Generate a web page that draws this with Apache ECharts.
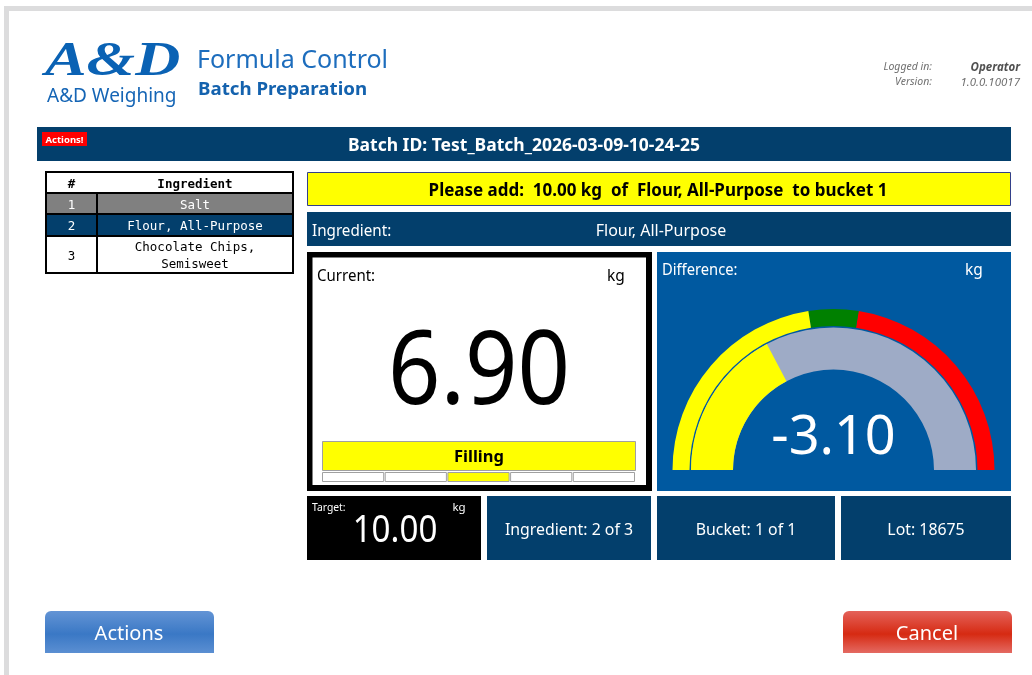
<!DOCTYPE html>
<html><head><meta charset="utf-8">
<script src="https://cdn.jsdelivr.net/npm/echarts@6/dist/echarts.min.js"></script>
<style>html,body{margin:0;padding:0;background:#fff;}#c{width:1032px;height:675px;}</style>
</head><body><div id="c"></div>
<script>
// ---- data ----
const appTitle = ['Formula Control', 'Batch Preparation'];
const loginLabels = ['Logged in:', 'Version:'];
const loginValues = ['Operator', '1.0.0.10017'];
const batchIds = ['Test_Batch_2026-03-09-10-24-25'];
const ingredientNo = ['1', '2', '3'];
const ingredientNames = ['Salt', 'Flour, All-Purpose', 'Chocolate Chips,\nSemisweet'];
const ingredientState = ['done', 'active', 'pending'];
const requestText = ['Please add:  10.00 kg  of  Flour, All-Purpose  to bucket 1'];
const currentKg = [6.90];
const targetKg = [10.00];
const differenceKg = [-3.10];
const gaugeRange = [-10, 10];
const toleranceBand = [-1, 1];
const fillStates = ['', '', 'Filling', '', ''];
const activeFillStep = [2];
const infoBoxes = ['Ingredient: 2 of 3', 'Bucket: 1 of 1', 'Lot: 18675'];
const buttonLabels = ['Actions', 'Cancel'];

// ---- styling helpers ----
const NAVY = '#033f6c', BLUE = '#0059a0', SANS = "'Noto Sans'", MONO = "'DejaVu Sans Mono'";
const DY = 1.5;
function R(x, y, w, h, fill, extra) {
  return Object.assign({ type: 'rect', shape: { x, y, width: w, height: h }, style: { fill }, z: 1 }, extra || {});
}
function T(x, y, text, o) {
  o = o || {};
  const font = `${o.italic ? 'italic ' : ''}${o.bold ? 'bold ' : 'normal '}${o.size || 14}px ${o.family || SANS}`;
  const al = o.align || 'left', va = o.va || 'middle';
  return { type: 'text', x, y: y + DY, scaleX: o.sx || 1, scaleY: o.sy || 1, z: 5,
    style: { text, x: 0, y: 0, fill: o.color || '#000', font, textAlign: al, textVerticalAlign: va, align: al, verticalAlign: va, lineHeight: o.lh } };
}

const els = [];
// page frame
els.push(R(4, 6, 1028, 5, '#dcdcdd'));
els.push(R(4, 6, 5, 669, '#dcdcdd'));
// logo
els.push(T(45, 61, 'A&D', { size: 52, bold: true, italic: true, family: "'Liberation Serif'", color: '#0a62b4', sx: 1.2, sy: 0.95 }));
els.push(T(47, 95, 'A&D Weighing', { size: 19, color: '#1565b5' }));
els.push(T(197, 59, appTitle[0], { size: 25, color: '#1d6dbd' }));
els.push(T(198, 88, appTitle[1], { size: 18, bold: true, color: '#1462ae', sx: 1.04 }));
// login info
loginLabels.forEach((l, i) => {
  els.push(T(932, 66 + i * 15, l, { size: 10.5, italic: true, color: '#707070', align: 'right' }));
  els.push(T(1020, 66 + i * 15, loginValues[i], { size: 11.5, italic: true, bold: i === 0, color: i === 0 ? '#505050' : '#707070', align: 'right' }));
});
// header bar
els.push(R(37, 127, 974, 34, NAVY));
els.push(R(42, 132, 45, 14, '#ff0000', { z: 2 }));
els.push(T(64.5, 138.5, 'Actions!', { size: 9.5, bold: true, color: '#fff', align: 'center' }));
els.push(T(524, 145, 'Batch ID: ' + batchIds[0], { size: 17.5, bold: true, color: '#fff', align: 'center' }));

// ingredient table
const tx = 46, tw = 247, colX = 97;
const rowY = [172, 193, 214, 236, 273];
els.push(R(tx, rowY[0], tw, rowY[1] - rowY[0], '#fff'));
els.push(T(71.5, 183, '#', { size: 12.5, bold: true, family: MONO, align: 'center' }));
els.push(T(195, 183, 'Ingredient', { size: 12.5, bold: true, family: MONO, align: 'center' }));
ingredientNames.forEach((n, i) => {
  const st = ingredientState[i];
  const bg = st === 'done' ? '#808080' : st === 'active' ? NAVY : '#fff';
  const fg = st === 'pending' ? '#000' : '#fff';
  const y0 = rowY[i + 1], y1 = rowY[i + 2];
  els.push(R(tx, y0, tw, y1 - y0, bg));
  els.push(T(71.5, (y0 + y1) / 2 + 0.5, ingredientNo[i], { size: 12.5, family: MONO, color: fg, align: 'center' }));
  els.push(T(195, (y0 + y1) / 2 + 0.5, n, { size: 12.5, family: MONO, color: fg, align: 'center', lh: 17 }));
  els.push(R(tx, y0 - 1, tw, 2, '#000', { z: 3 }));
});
els.push(R(colX - 1, rowY[1], 2, rowY[4] - rowY[1], '#000', { z: 3 }));
els.push({ type: 'rect', shape: { x: tx, y: rowY[0], width: tw, height: rowY[4] - rowY[0] }, style: { fill: 'none', stroke: '#000', lineWidth: 2 }, z: 4 });

// request bar
els.push(R(307.5, 172.5, 703, 33, '#ffff00', { style: { fill: '#ffff00', stroke: '#33408a', lineWidth: 1 } }));
els.push(T(658, 189.5, requestText[0], { size: 17.5, bold: true, color: '#000', align: 'center', sx: 0.97 }));
// ingredient bar
els.push(R(307, 212, 704, 34, NAVY));
els.push(T(312, 229.5, 'Ingredient:', { size: 16, color: '#fff', sx: 0.95 }));
els.push(T(661, 229.5, ingredientNames[1], { size: 16.5, color: '#fff', align: 'center', sx: 0.97 }));

// current box
els.push(R(307, 252, 345, 239, '#000'));
els.push(R(312.5, 257.5, 333.5, 227.5, '#fff', { z: 2 }));
els.push(T(317, 275, 'Current:', { size: 15.5, color: '#000', sx: 0.97 }));
els.push(T(616, 275, 'kg', { size: 15.5, color: '#000', align: 'center' }));
els.push(T(479, 373, currentKg[0].toFixed(2), { size: 102, color: '#000', align: 'center', sx: 0.9 }));
els.push(R(322.5, 441.5, 313, 29, '#ffff00', { z: 3, style: { fill: '#ffff00', stroke: '#a0a0a0', lineWidth: 1 } }));
els.push(T(479, 456, fillStates[activeFillStep[0]], { size: 16.5, bold: true, color: '#000', align: 'center' }));
const segW = 61.2, segGap = 1.5;
fillStates.forEach((s, i) => {
  els.push(R(322.5 + i * (segW + segGap), 472.5, segW, 9, i === activeFillStep[0] ? '#ffff00' : '#fff',
    { z: 3, style: { fill: i === activeFillStep[0] ? '#ffff00' : '#fff', stroke: '#a0a0a0', lineWidth: 1 } }));
});

// difference panel
els.push(R(657, 252, 354, 239, BLUE));
els.push(T(662, 269.5, 'Difference:', { size: 15.5, color: '#fff', sx: 0.95 }));
els.push(T(974, 269.5, 'kg', { size: 15.5, color: '#fff', align: 'center' }));

// bottom info row
els.push(R(307, 496, 174, 64, '#000'));
els.push(T(312, 506, 'Target:', { size: 11.5, color: '#fff', sx: 0.9 }));
els.push(T(459, 506, 'kg', { size: 11.5, color: '#fff', align: 'center' }));
els.push(T(395, 529, targetKg[0].toFixed(2), { size: 39, color: '#fff', align: 'center', sx: 0.85 }));
const boxX = [487, 657, 841], boxW = [164, 178, 170];
infoBoxes.forEach((t, i) => {
  els.push(R(boxX[i], 496, boxW[i], 64, NAVY));
  els.push(T(boxX[i] + boxW[i] / 2, 529, t, { size: 16.5, color: '#fff', align: 'center', sx: 0.96 }));
});

// buttons
const grad = (a, b, c) => ({ type: 'linear', x: 0, y: 0, x2: 0, y2: 1, colorStops: [{ offset: 0, color: a }, { offset: 0.55, color: b }, { offset: 1, color: c }] });
els.push({ type: 'rect', shape: { x: 45, y: 611, width: 169, height: 42, r: [6, 6, 0, 0] }, style: { fill: grad('#6394d5', '#3a78c5', '#5b8fd2') }, z: 1 });
els.push(T(129, 633, buttonLabels[0], { size: 20, color: '#fff', align: 'center' }));
els.push({ type: 'rect', shape: { x: 843, y: 611, width: 169, height: 42, r: [6, 6, 0, 0] }, style: { fill: grad('#e4625a', '#d62a12', '#e46a62') }, z: 1 });
els.push(T(927, 633, buttonLabels[1], { size: 20, color: '#fff', align: 'center' }));

// ---- gauge ----
const span = gaugeRange[1] - gaugeRange[0];
const tolLo = (toleranceBand[0] - gaugeRange[0]) / span, tolHi = (toleranceBand[1] - gaugeRange[0]) / span;
const hide = { axisTick: { show: false }, splitLine: { show: false }, axisLabel: { show: false }, pointer: { show: false }, anchor: { show: false }, title: { show: false } };
const chart = echarts.init(document.getElementById('c'), null, { renderer: 'canvas' });
chart.setOption({
  animation: false,
  graphic: { elements: els },
  series: [
    Object.assign({
      type: 'gauge', z: 50, center: [833.5, 470], radius: 161, startAngle: 180, endAngle: 0,
      min: gaugeRange[0], max: gaugeRange[1],
      axisLine: { lineStyle: { width: 17, color: [[tolLo, '#ffff00'], [tolHi, '#008000'], [1, '#ff0000']] } },
      detail: { show: false }, data: [{ value: differenceKg[0] }]
    }, hide),
    Object.assign({
      type: 'gauge', z: 50, center: [833.5, 470], radius: 142.5, startAngle: 180, endAngle: 0,
      min: gaugeRange[0], max: gaugeRange[1],
      axisLine: { lineStyle: { width: 42, color: [[1, '#9eabc6']] } },
      progress: { show: true, width: 42, itemStyle: { color: '#ffff00' } },
      detail: { show: true, offsetCenter: [0, -31], fontSize: 54, fontWeight: 'normal', fontFamily: 'Noto Sans', color: '#fff', formatter: v => v.toFixed(2) },
      data: [{ value: differenceKg[0] }]
    }, hide)
  ]
});
</script></body></html>
